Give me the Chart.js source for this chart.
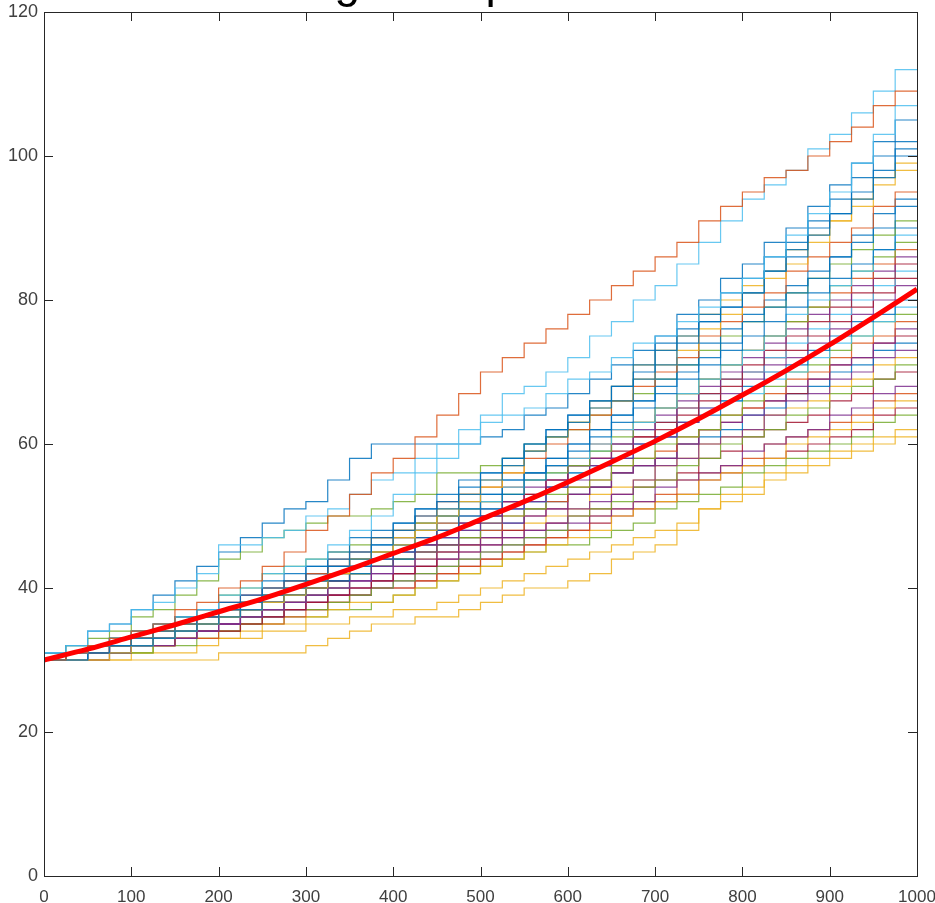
<!DOCTYPE html>
<html>
<head>
<meta charset="utf-8">
<script src="https://cdn.jsdelivr.net/npm/chart.js"></script>
<style>
  html, body { margin: 0; padding: 0; background: #ffffff; }
  #chartBox { width: 935px; height: 903px; position: relative; }
</style>
</head>
<body>
<div id="chartBox"><canvas id="growthChart"></canvas></div>
<script>
const titleText = "growth process";

const timeSteps = [0, 25, 50, 75, 100, 125, 150, 175, 200, 225, 250, 275, 300, 325,
  350, 375, 400, 425, 450, 475, 500, 525, 550, 575, 600, 625, 650, 675, 700,
  725, 750, 775, 800, 825, 850, 875, 900, 925, 950, 975, 1000];

const meanSteps = [0, 50, 100, 150, 200, 250, 300, 350, 400, 450, 500,
  550, 600, 650, 700, 750, 800, 850, 900, 950, 1000];
const meanCurve = [30, 31.5, 33.2, 34.9, 36.7, 38.5, 40.5, 42.6, 44.8, 47.0, 49.5,
  52.0, 54.7, 57.5, 60.4, 63.5, 66.8, 70.2, 73.8, 77.6, 81.5];

const xTicks = [0, 100, 200, 300, 400, 500, 600, 700, 800, 900, 1000];
const yTicks = [0, 20, 40, 60, 80, 100, 120];

// sample paths, read at every 25 steps
const paths = [
  [30,30,31,32,33,34,35,37,38,40,41,43,45,48,50,53,56,58,61,64,67,70,72,74,76,78,80,82,84,86,88,91,93,95,97,98,100,102,104,107,109],
  [30,31,31,32,33,34,35,36,37,39,40,42,43,44,46,48,50,53,56,58,60,64,67,68,70,72,75,77,80,82,85,88,91,94,96,98,101,103,106,109,112],
  [30,31,32,34,35,37,38,40,42,46,46,47,48,50,51,53,55,56,58,60,62,63,64,65,67,69,70,72,74,75,77,79,81,83,86,89,92,95,99,103,107],
  [30,31,32,34,35,37,39,41,43,45,47,49,51,52,55,58,60,60,60,60,60,61,62,64,65,67,69,71,73,75,78,80,83,85,88,90,93,96,99,102,105],
  [30,30,31,32,32,33,34,35,36,37,38,40,41,43,44,45,47,49,51,53,55,56,58,60,62,64,66,68,71,74,76,78,81,83,86,88,91,94,97,100,102],
  [30,30,30,31,32,32,33,34,35,36,37,39,40,41,43,44,46,48,50,51,53,55,57,59,61,63,65,66,69,71,74,77,79,81,84,87,90,92,95,98,101],
  [30,31,31,32,33,34,35,36,37,38,39,41,42,43,45,47,48,49,51,52,54,56,58,60,62,64,66,68,70,73,75,77,79,81,84,86,89,92,94,97,100],
  [30,30,30,30,31,32,33,34,35,36,37,38,39,40,42,44,45,47,49,51,53,55,57,59,61,63,65,66,69,71,73,76,78,81,83,85,88,91,94,97,99],
  [30,30,31,32,32,33,34,35,35,36,37,39,40,41,42,44,45,46,48,50,52,54,56,59,61,63,66,68,71,73,75,78,80,82,84,87,89,91,93,96,98],
  [30,31,31,31,32,33,34,35,36,37,38,40,41,42,44,45,47,48,50,52,53,54,56,58,60,62,64,66,68,70,72,75,77,79,81,84,86,88,90,93,95],
  [30,30,31,32,33,33,34,35,36,37,38,39,40,42,43,45,46,47,49,50,52,53,55,56,58,60,62,64,66,69,71,74,76,78,80,82,84,86,89,92,94],
  [30,30,30,31,31,32,33,34,35,36,37,38,39,41,42,43,45,46,48,50,51,53,55,56,58,60,62,64,66,68,70,72,74,77,79,81,83,86,88,90,93],
  [30,31,32,33,34,36,37,39,41,44,45,47,48,49,50,50,51,52,53,56,56,57,58,60,61,62,64,66,67,69,71,73,75,77,79,81,83,85,87,89,91],
  [30,30,31,31,32,33,33,34,35,36,37,38,39,40,41,43,44,45,47,48,50,51,53,55,57,59,61,63,65,67,69,71,73,75,77,79,81,83,85,87,90],
  [30,30,30,31,32,32,33,34,35,36,37,39,40,41,42,44,45,46,48,50,51,52,54,56,57,58,60,62,63,65,67,69,71,73,75,78,80,82,84,87,89],
  [30,31,31,32,33,34,35,36,37,39,40,42,43,44,45,46,47,48,49,50,51,52,53,55,56,57,59,61,63,65,67,69,71,73,75,77,79,82,84,86,88],
  [30,30,31,32,32,33,34,35,36,37,38,39,40,41,43,44,45,47,48,49,51,52,54,56,57,58,60,62,63,65,67,69,71,73,75,77,79,81,83,85,87],
  [30,30,30,31,31,32,32,33,34,35,36,37,38,39,40,41,43,45,46,47,49,50,52,54,55,57,58,60,62,64,66,68,70,72,74,76,78,80,82,84,86],
  [30,30,31,31,32,33,34,34,35,36,37,38,39,40,41,43,44,45,46,48,49,50,52,53,55,57,58,60,61,63,65,67,69,71,73,75,77,79,81,83,85],
  [30,31,31,32,33,33,34,35,36,37,38,40,41,42,43,44,45,46,48,49,50,51,53,55,56,57,59,60,62,63,65,67,69,70,72,74,76,78,80,82,84],
  [30,30,31,32,33,34,35,36,37,38,39,40,41,42,43,44,45,46,47,48,50,51,52,53,55,57,58,59,61,62,64,66,68,70,72,73,75,77,79,81,83],
  [30,30,30,30,31,32,33,33,34,35,36,37,38,39,40,41,42,43,45,46,48,49,51,52,54,55,57,58,60,61,63,65,67,69,71,72,74,76,78,80,82],
  [30,30,31,32,32,32,33,34,35,36,37,38,39,40,41,42,43,44,46,47,48,50,51,52,54,56,57,58,60,61,63,64,66,68,70,71,73,75,77,78,80],
  [30,31,31,32,32,33,34,35,36,37,38,39,40,41,42,43,44,45,46,47,49,50,51,52,54,56,57,58,60,61,63,65,66,67,69,70,72,74,75,77,79],
  [30,30,30,31,32,32,33,34,35,36,36,37,38,39,40,42,43,44,45,46,47,49,50,51,53,54,55,57,58,60,61,62,64,66,68,70,71,73,75,77,78],
  [30,30,31,31,32,33,34,35,35,36,37,38,39,40,41,42,43,44,45,46,47,48,50,51,52,54,55,57,58,59,61,62,64,65,67,69,70,72,74,75,77],
  [30,31,31,31,32,33,33,34,35,35,36,37,38,39,40,41,42,43,44,45,46,47,49,50,51,53,54,56,57,58,60,62,63,64,66,68,69,71,72,74,76],
  [30,30,30,31,31,32,32,33,34,34,35,36,37,38,39,40,41,42,43,45,46,47,48,50,51,53,54,56,57,58,60,62,63,65,66,67,69,71,72,74,75],
  [30,30,31,32,32,33,34,34,35,36,37,38,39,40,41,42,43,44,45,46,47,48,49,51,52,53,54,56,57,58,60,61,62,64,65,67,68,70,71,73,74],
  [30,30,31,31,32,33,33,34,34,35,36,36,37,38,39,40,41,42,43,44,45,46,47,48,49,51,52,53,55,57,58,60,61,62,64,66,67,69,70,72,73],
  [30,31,31,32,33,34,34,35,36,37,38,38,39,40,41,42,43,43,44,45,46,47,48,49,50,51,53,54,55,57,58,60,61,62,64,65,66,68,69,71,72],
  [30,30,30,31,31,31,32,33,34,34,35,36,37,37,38,39,40,41,42,43,44,45,46,47,48,50,51,52,54,55,57,58,60,61,62,64,65,67,68,69,71],
  [30,30,31,32,32,33,33,34,35,35,36,37,38,38,39,40,41,42,43,44,45,46,47,48,49,50,51,53,54,55,56,58,59,61,62,63,64,66,67,69,70],
  [30,31,31,32,32,33,33,34,35,35,36,37,37,38,39,39,40,41,42,43,44,45,46,47,48,49,50,51,52,54,55,56,57,59,60,61,62,64,65,67,68],
  [30,30,30,31,31,32,32,33,33,34,35,35,36,37,38,39,40,40,41,42,43,44,45,46,47,48,50,51,52,53,55,56,57,58,60,61,62,63,64,66,67],
  [30,30,30,30,31,31,32,33,33,33,34,35,35,36,37,38,38,39,40,41,42,43,44,45,46,47,48,50,51,52,53,55,56,57,58,60,61,62,63,65,66],
  [30,30,31,31,32,33,33,33,34,35,35,36,37,37,38,39,40,40,41,42,43,44,45,46,47,48,49,50,51,52,53,55,56,57,58,59,60,61,62,64,65],
  [30,30,30,30,31,31,32,32,33,34,35,35,36,36,37,37,38,39,40,41,42,43,44,45,46,46,47,48,49,51,52,53,54,56,57,58,59,60,61,63,64],
  [30,30,30,30,30,31,31,31,32,33,33,34,34,35,35,36,36,37,37,38,39,40,41,42,43,44,45,46,47,48,49,51,52,53,55,56,57,59,60,61,62],
  [30,30,30,30,30,30,30,30,30,31,31,31,31,32,33,34,35,35,36,36,37,38,39,40,40,41,42,44,45,46,48,51,53,54,56,57,58,58,59,60,61],
];

// matlab default line colours (slightly see-through, like the antialiased thin lines)
const palette = {
  blue: "rgba(0, 114, 189, 0.85)",
  orange: "rgba(217, 83, 25, 0.85)",
  yellow: "rgba(237, 177, 32, 0.85)",
  purple: "rgba(126, 47, 142, 0.85)",
  green: "rgba(119, 172, 48, 0.85)",
  lightblue: "rgba(77, 190, 238, 0.85)",
  darkred: "rgba(162, 20, 47, 0.85)",
};
const pathColors = [
  "orange", "lightblue", "lightblue", "blue", "blue", "blue", "blue", "yellow",
  "yellow", "orange", "blue", "blue", "green", "blue", "lightblue", "green",
  "orange", "purple", "darkred", "lightblue", "darkred", "purple", "blue",
  "lightblue", "green", "orange", "purple", "darkred", "blue", "purple",
  "yellow", "green", "darkred", "purple", "orange", "yellow", "darkred",
  "green", "yellow", "yellow",
];

const axisColor = "#262626";
const labelColor = "#404040";
const fontFamily = "'Liberation Sans', Arial, sans-serif";

function toPoints(xs, values) {
  return values.map((v, i) => ({ x: xs[i], y: v }));
}

function buildDatasets() {
  const sets = [
    {
      label: "mean",
      data: toPoints(meanSteps, meanCurve),
      borderColor: "#FF0000",
      borderWidth: 5,
      cubicInterpolationMode: "monotone",
    },
  ];
  paths.forEach((p, i) => {
    sets.push({
      label: "path " + (i + 1),
      data: toPoints(timeSteps, p),
      borderColor: palette[pathColors[i]],
      borderWidth: 1.2,
      stepped: "after",
    });
  });
  return sets;
}

// box round the axes with inward ticks on all four sides, matlab style
const boxAxes = {
  id: "boxAxes",
  afterDatasetsDraw(chart) {
    const { ctx, chartArea: a, scales } = chart;
    const len = 9;
    ctx.save();
    ctx.strokeStyle = axisColor;
    ctx.lineWidth = 1;
    ctx.beginPath();
    xTicks.forEach((t) => {
      const px = Math.round(scales.x.getPixelForValue(t)) + 0.5;
      ctx.moveTo(px, a.bottom);
      ctx.lineTo(px, a.bottom - len);
      ctx.moveTo(px, a.top);
      ctx.lineTo(px, a.top + len);
    });
    yTicks.forEach((t) => {
      const py = Math.round(scales.y.getPixelForValue(t)) + 0.5;
      ctx.moveTo(a.left, py);
      ctx.lineTo(a.left + len, py);
      ctx.moveTo(a.right, py);
      ctx.lineTo(a.right - len, py);
    });
    ctx.stroke();
    ctx.strokeRect(Math.round(a.left) + 0.5, Math.round(a.top) + 0.5,
      Math.round(a.right - a.left), Math.round(a.bottom - a.top));
    ctx.restore();
  },
};

// the title sits above the top edge, only its descenders show
const clippedTitle = {
  id: "clippedTitle",
  afterDraw(chart) {
    const { ctx, chartArea: a } = chart;
    ctx.save();
    ctx.fillStyle = "#000000";
    ctx.font = "46px " + fontFamily;
    ctx.textAlign = "center";
    ctx.textBaseline = "alphabetic";
    ctx.fillText(titleText, (a.left + a.right) / 2 + 10, -3.5);
    ctx.restore();
  },
};

const ctxGrowth = document.getElementById("growthChart").getContext("2d");
const growthChart = new Chart(ctxGrowth, {
  type: "line",
  data: { datasets: buildDatasets() },
  options: {
    responsive: true,
    maintainAspectRatio: false,
    animation: false,
    layout: { padding: { top: 12, right: 18, left: 0, bottom: 0 } },
    elements: { point: { radius: 0 } },
    plugins: {
      legend: { display: false },
      tooltip: { enabled: false },
      title: { display: false },
    },
    scales: {
      x: {
        type: "linear",
        min: 0,
        max: 1000,
        border: { display: false },
        grid: { display: false, drawTicks: false },
        ticks: {
          stepSize: 100,
          color: labelColor,
          font: { family: fontFamily, size: 17 },
          padding: 11,
          maxRotation: 0,
          callback: (value) => String(value),
        },
        afterFit(scale) {
          scale.height = 27;
          scale.paddingLeft = 0;
          scale.paddingRight = 0;
        },
      },
      y: {
        min: 0,
        max: 120,
        border: { display: false },
        grid: { display: false, drawTicks: false },
        ticks: {
          stepSize: 20,
          color: labelColor,
          font: { family: fontFamily, size: 18 },
          padding: 6,
        },
        afterFit(scale) {
          scale.width = 44;
          scale.paddingTop = 0;
          scale.paddingBottom = 0;
        },
      },
    },
  },
  plugins: [boxAxes, clippedTitle],
});
</script>
</body>
</html>
